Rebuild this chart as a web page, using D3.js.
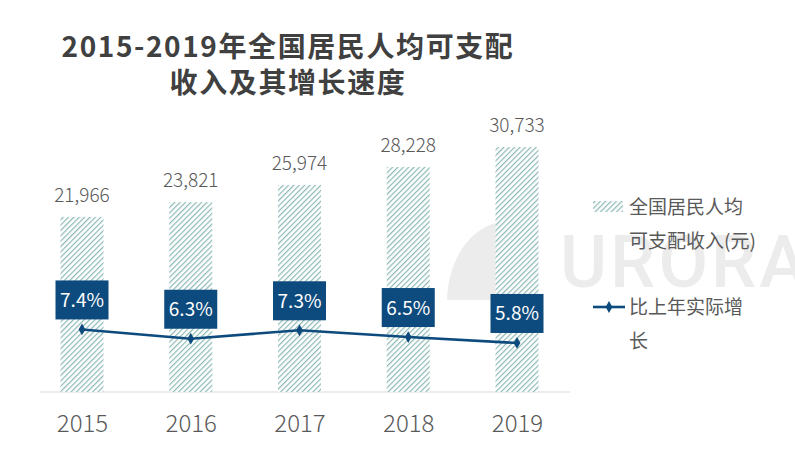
<!DOCTYPE html>
<html><head><meta charset="utf-8">
<script src="https://cdn.jsdelivr.net/npm/d3@7"></script>
<style>html,body{margin:0;padding:0;background:#fff;}svg{display:block;}</style>
</head><body>
<svg id="chart" width="795" height="453"></svg>
<script>
const years = ["2015","2016","2017","2018","2019"];
const income = [21966, 23821, 25974, 28228, 30733];
const growth = [7.4, 6.3, 7.3, 6.5, 5.8];
const titleLines = ["2015-2019年全国居民人均可支配", "收入及其增长速度"];
const legendIncome = ["全国居民人均", "可支配收入(元)"];
const legendGrowth = ["比上年实际增", "长"];

const svg = d3.select("#chart");
const FONT = "'Noto Sans CJK SC', 'Noto Sans', sans-serif";
const blue = "#0d4a7d";
const gray = "#595959";

const defs = svg.append("defs");
const pat = defs.append("pattern").attr("id","hatch").attr("patternUnits","userSpaceOnUse")
  .attr("width",3.8).attr("height",3.8).attr("patternTransform","rotate(45)");
pat.append("rect").attr("width",3.8).attr("height",3.8).attr("fill","#ffffff");
pat.append("rect").attr("width",1.2).attr("height",3.8).attr("fill","#8bb9b5");

const x = d3.scalePoint().domain(years).range([82, 517]);
const yBar = d3.scaleLinear().domain([0, 35000]).range([392, 113]);
const yLine = d3.scaleLinear().domain([0, 33]).range([392, 113]);
const barW = 43;

// title
svg.append("g").selectAll("text").data(titleLines).join("text")
  .attr("x", 288).attr("y", (d,i)=> 57 + i*36)
  .attr("text-anchor","middle").attr("font-family",FONT).attr("font-weight",700)
  .attr("font-size",28).attr("letter-spacing",1.6).attr("fill","#404040").text(d=>d);

// axis
const xAxis = d3.axisBottom(x).tickSize(0).tickPadding(20);
const ax = svg.append("g").attr("transform","translate(0,392)").call(xAxis);
ax.select(".domain").remove();
ax.append("line").attr("x1",40).attr("x2",570).attr("stroke","#d9d9d9").attr("stroke-width",1);
ax.selectAll(".tick text").attr("font-family",FONT).attr("font-weight",300)
  .attr("font-size",24).attr("fill",gray).attr("dy",null).attr("y",40);

const data = years.map((y,i)=>({year:y, income:income[i], growth:growth[i]}));

// watermark
const wm = svg.append("g").attr("fill","#ececec");
wm.append("path").attr("d","M447,300 C448,262 468,228 500,222 L512,224 C494,236 490,258 520,276 L520,300 Z");
wm.append("text").attr("x",560).attr("y",287).attr("font-family","Roboto, sans-serif")
  .attr("font-weight",500).attr("font-size",72).attr("letter-spacing",3).text("URORA");

// bars
svg.append("g").selectAll("rect").data(data).join("rect")
  .attr("x", d=>x(d.year)-barW/2).attr("width",barW)
  .attr("y", d=>yBar(d.income)).attr("height", d=>yBar(0)-yBar(d.income))
  .attr("fill","url(#hatch)");

svg.append("g").selectAll("text").data(data).join("text")
  .attr("x", d=>x(d.year)).attr("y", d=>yBar(d.income)-15)
  .attr("text-anchor","middle").attr("font-family",FONT).attr("font-weight",300)
  .attr("font-size",19).attr("fill",gray).text(d=>d3.format(",")(d.income));

// line
const line = d3.line().x(d=>x(d.year)).y(d=>yLine(d.growth));
svg.append("path").datum(data).attr("d",line).attr("fill","none")
  .attr("stroke",blue).attr("stroke-width",2.6);
const diamond = d3.symbol().type(d3.symbolDiamond).size(40);
svg.append("g").selectAll("path").data(data).join("path")
  .attr("transform", d=>`translate(${x(d.year)},${yLine(d.growth)})`)
  .attr("d", diamond).attr("fill",blue);

// boxes
const boxW = 53, boxH = 39;
const bg = svg.append("g").selectAll("g").data(data).join("g")
  .attr("transform", d=>`translate(${x(d.year)},${yLine(d.growth)-10-boxH})`);
bg.append("rect").attr("x",-boxW/2).attr("width",boxW).attr("height",boxH).attr("fill",blue);
bg.append("text").attr("y", boxH/2+7).attr("text-anchor","middle").attr("font-family",FONT)
  .attr("font-size",19).attr("fill","#fff").text(d=>d.growth.toFixed(1)+"%");

// legend
const lg = svg.append("g");
lg.append("rect").attr("x",593).attr("y",201).attr("width",30).attr("height",11).attr("fill","url(#hatch)");
lg.selectAll("text.l1").data(legendIncome).join("text").attr("class","l1")
  .attr("x",629).attr("y",(d,i)=>214+i*34).attr("font-family",FONT).attr("font-size",19)
  .attr("fill",gray).text(d=>d);
lg.append("line").attr("x1",593).attr("x2",625).attr("y1",307).attr("y2",307)
  .attr("stroke",blue).attr("stroke-width",2.6);
lg.append("path").attr("transform","translate(609,307)").attr("d",diamond).attr("fill",blue);
lg.selectAll("text.l2").data(legendGrowth).join("text").attr("class","l2")
  .attr("x",629).attr("y",(d,i)=>314+i*34).attr("font-family",FONT).attr("font-size",19)
  .attr("fill",gray).text(d=>d);
</script>
</body></html>
